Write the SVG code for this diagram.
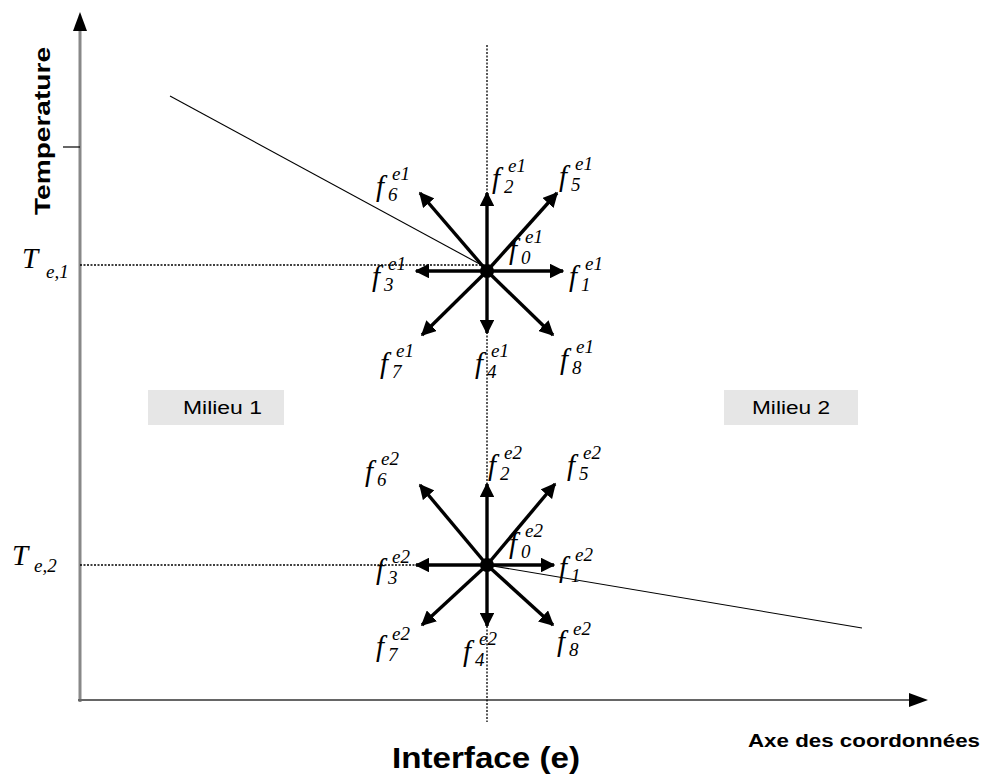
<svg xmlns="http://www.w3.org/2000/svg" width="990" height="780" viewBox="0 0 990 780">
<style>
.f{font-family:"Liberation Serif",serif;font-style:italic;font-size:29px;fill:#000}
.sb{font-family:"Liberation Serif",serif;font-style:italic;font-size:19px;fill:#000}
.sp{font-family:"Liberation Serif",serif;font-style:italic;font-size:19px;fill:#000}
.sans{font-family:"Liberation Sans",Arial,sans-serif}
.arr{stroke:#000;stroke-width:3.4;fill:none;marker-end:url(#ah)}
.dot{stroke:#000;stroke-width:1.3;stroke-dasharray:2,1.5;fill:none}
.box{fill:#e6e6e6}
</style>
<defs>
<marker id="ah" viewBox="0 0 10 10" refX="9" refY="5" markerWidth="4.4" markerHeight="4.4" orient="auto" markerUnits="strokeWidth">
<path d="M0,0 L10,5 L0,10 Z" fill="#000"/>
</marker>
</defs>
<rect width="990" height="780" fill="#fff"/>
<g id="connectors">
<line x1="80" y1="702" x2="80" y2="30" stroke="#888" stroke-width="3"/>
<path d="M80,12 L73,31 L87,31 Z" fill="#000"/>
<line x1="63" y1="147" x2="80" y2="147" stroke="#000" stroke-width="1.2"/>
<line x1="78" y1="700" x2="910" y2="700" stroke="#666" stroke-width="2"/>
<path d="M928,700 L909,693 L909,707 Z" fill="#000"/>
<line x1="487" y1="45" x2="487" y2="722" class="dot"/>
<line x1="80" y1="265" x2="487" y2="265" class="dot"/>
<line x1="80" y1="565" x2="487" y2="565" class="dot"/>
<line x1="170" y1="96" x2="487" y2="268" stroke="#000" stroke-width="1.1"/>
<line x1="487" y1="565" x2="862" y2="628" stroke="#000" stroke-width="1.1"/>
<g id="arrows1">
<line x1="487" y1="271" x2="487" y2="193" class="arr"/>
<line x1="487" y1="271" x2="487" y2="333" class="arr"/>
<line x1="487" y1="271" x2="416" y2="271" class="arr"/>
<line x1="487" y1="271" x2="563" y2="271" class="arr"/>
<line x1="487" y1="271" x2="420" y2="193" class="arr"/>
<line x1="487" y1="271" x2="557" y2="193" class="arr"/>
<line x1="487" y1="271" x2="422" y2="335" class="arr"/>
<line x1="487" y1="271" x2="553" y2="335" class="arr"/>
</g>
<g id="arrows2">
<line x1="487" y1="565" x2="487" y2="484" class="arr"/>
<line x1="487" y1="565" x2="487" y2="626" class="arr"/>
<line x1="487" y1="565" x2="416" y2="565" class="arr"/>
<line x1="487" y1="565" x2="554" y2="565" class="arr"/>
<line x1="487" y1="565" x2="420" y2="485" class="arr"/>
<line x1="487" y1="565" x2="555" y2="484" class="arr"/>
<line x1="487" y1="565" x2="422" y2="625" class="arr"/>
<line x1="487" y1="565" x2="553" y2="625" class="arr"/>
</g>
</g>
<g id="axis-labels">
<text class="sans" transform="translate(50,131) rotate(-90)" text-anchor="middle" font-size="22" font-weight="bold" textLength="168" lengthAdjust="spacingAndGlyphs">Temperature</text>
<text class="sans" x="392" y="768" font-size="29" font-weight="bold" textLength="188" lengthAdjust="spacingAndGlyphs">Interface (e)</text>
<text class="sans" x="748" y="747" font-size="18" font-weight="bold" textLength="232" lengthAdjust="spacingAndGlyphs">Axe des coordonnées</text>
<text class="f" x="22" y="268" font-size="33">T</text><text class="sb" x="46" y="278" font-size="22">e,1</text>
<text class="f" x="12" y="565" font-size="33">T</text><text class="sb" x="34" y="572" font-size="22">e,2</text>
</g>
<g id="milieu1">
<rect class="box" x="148" y="390" width="136" height="35"/>
<text class="sans" x="183" y="414" font-size="18" textLength="79" lengthAdjust="spacingAndGlyphs">Milieu 1</text>
</g>
<g id="milieu2">
<rect class="box" x="724" y="390" width="134" height="35"/>
<text class="sans" x="752" y="414" font-size="18" textLength="78" lengthAdjust="spacingAndGlyphs">Milieu 2</text>
</g>
<g id="node-e1">
<circle cx="487" cy="271" r="7" fill="#000"/>
<text class="f" x="376" y="196">f</text><text class="sb" x="388" y="201">6</text><text class="sp" x="392" y="180">e1</text>
<text class="f" x="492" y="188">f</text><text class="sb" x="504" y="193">2</text><text class="sp" x="508" y="172">e1</text>
<text class="f" x="559" y="186">f</text><text class="sb" x="571" y="191">5</text><text class="sp" x="575" y="170">e1</text>
<text class="f" x="509" y="259">f</text><text class="sb" x="521" y="264">0</text><text class="sp" x="525" y="243">e1</text>
<text class="f" x="372" y="286">f</text><text class="sb" x="384" y="291">3</text><text class="sp" x="388" y="270">e1</text>
<text class="f" x="569" y="286">f</text><text class="sb" x="581" y="291">1</text><text class="sp" x="585" y="270">e1</text>
<text class="f" x="380" y="373">f</text><text class="sb" x="392" y="378">7</text><text class="sp" x="396" y="357">e1</text>
<text class="f" x="475" y="373">f</text><text class="sb" x="487" y="378">4</text><text class="sp" x="491" y="357">e1</text>
<text class="f" x="560" y="369">f</text><text class="sb" x="572" y="374">8</text><text class="sp" x="576" y="353">e1</text>
</g>
<g id="node-e2">
<circle cx="487" cy="565" r="7" fill="#000"/>
<text class="f" x="365" y="481">f</text><text class="sb" x="377" y="486">6</text><text class="sp" x="381" y="465">e2</text>
<text class="f" x="488" y="475">f</text><text class="sb" x="500" y="480">2</text><text class="sp" x="504" y="459">e2</text>
<text class="f" x="567" y="475">f</text><text class="sb" x="579" y="480">5</text><text class="sp" x="583" y="459">e2</text>
<text class="f" x="509" y="553">f</text><text class="sb" x="521" y="558">0</text><text class="sp" x="525" y="537">e2</text>
<text class="f" x="376" y="579">f</text><text class="sb" x="388" y="584">3</text><text class="sp" x="392" y="563">e2</text>
<text class="f" x="559" y="577">f</text><text class="sb" x="571" y="582">1</text><text class="sp" x="575" y="561">e2</text>
<text class="f" x="376" y="656">f</text><text class="sb" x="388" y="661">7</text><text class="sp" x="392" y="640">e2</text>
<text class="f" x="463" y="661">f</text><text class="sb" x="475" y="666">4</text><text class="sp" x="479" y="645">e2</text>
<text class="f" x="557" y="651">f</text><text class="sb" x="569" y="656">8</text><text class="sp" x="573" y="635">e2</text>
</g>
</svg>
